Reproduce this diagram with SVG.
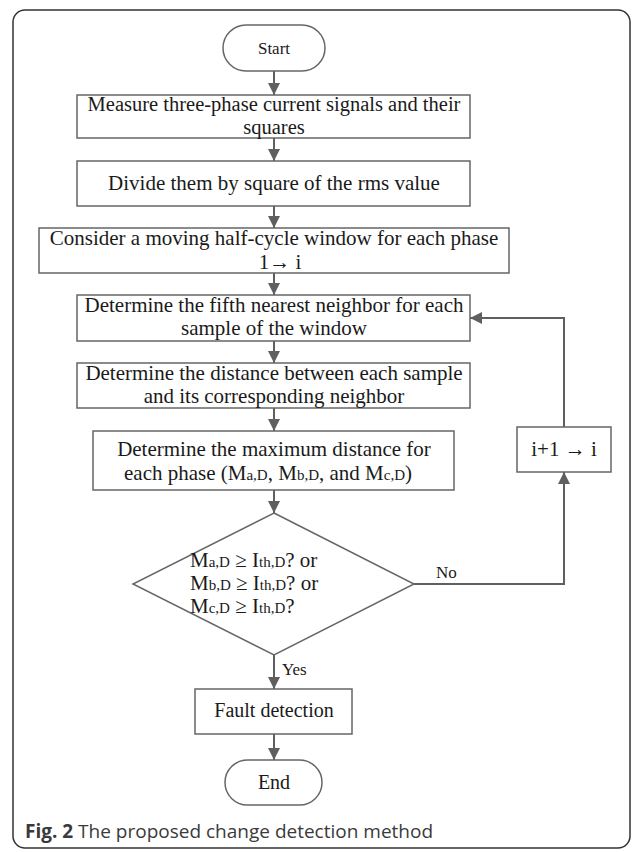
<svg xmlns="http://www.w3.org/2000/svg" width="634" height="852" viewBox="0 0 634 852">
<style>
.box{fill:#fff;stroke:#666;stroke-width:1.5}
.t{font-family:"Liberation Serif","Times New Roman",serif;font-size:21px;fill:#1a1a1a;text-anchor:middle}
.ts{font-family:"Liberation Serif","Times New Roman",serif;font-size:21px;fill:#1a1a1a}
.lbl{font-family:"Liberation Serif","Times New Roman",serif;font-size:17px;fill:#1a1a1a}
.sub{font-size:15px}
.con{fill:none;stroke:#5f5f5f;stroke-width:2}
.cap{font-family:"Open Sans","Noto Sans",sans-serif;font-size:19px;fill:#3a3a3a}
</style>
<defs>
<marker id="ah" viewBox="0 0 12 12" refX="12" refY="6" markerWidth="12" markerHeight="12" markerUnits="userSpaceOnUse" orient="auto">
<path d="M0,0 L12,6 L0,12 Z" fill="#5f5f5f"/>
</marker>
</defs>
<rect x="13" y="10" width="617" height="838" rx="12" fill="#fff" stroke="#333" stroke-width="1.5"/>
<g id="connectors">
<line class="con" x1="274" y1="71" x2="274" y2="95" marker-end="url(#ah)"/>
<line class="con" x1="274" y1="138" x2="274" y2="161" marker-end="url(#ah)"/>
<line class="con" x1="274" y1="206" x2="274" y2="228" marker-end="url(#ah)"/>
<line class="con" x1="274" y1="273" x2="274" y2="295" marker-end="url(#ah)"/>
<line class="con" x1="274" y1="341" x2="274" y2="363" marker-end="url(#ah)"/>
<line class="con" x1="274" y1="408" x2="274" y2="431" marker-end="url(#ah)"/>
<line class="con" x1="274" y1="490" x2="274" y2="513" marker-end="url(#ah)"/>
<line class="con" x1="274" y1="655" x2="274" y2="689" marker-end="url(#ah)"/>
<line class="con" x1="274" y1="734" x2="274" y2="760" marker-end="url(#ah)"/>
<polyline class="con" points="414,584 564,584 564,472" marker-end="url(#ah)"/>
<polyline class="con" points="564,427 564,318 470,318" marker-end="url(#ah)"/>
<text class="lbl" x="282" y="675">Yes</text>
<text class="lbl" x="436" y="578">No</text>
</g>
<g id="start">
<rect class="box" x="223" y="25" width="102" height="46" rx="23"/>
<text class="t" x="274" y="54" style="font-size:17px">Start</text>
</g>
<g id="measure">
<rect class="box" x="77" y="95" width="393" height="43"/>
<text class="t" x="274" y="111" style="font-size:20.5px">Measure three-phase current signals and their</text>
<text class="t" x="274" y="134" style="font-size:20.5px">squares</text>
</g>
<g id="divide">
<rect class="box" x="77" y="161" width="393" height="45"/>
<text class="t" x="274" y="190">Divide them by square of the rms value</text>
</g>
<g id="consider">
<rect class="box" x="39" y="228" width="470" height="45"/>
<text class="t" x="274" y="245">Consider a moving half-cycle window for each phase</text>
<text class="t" x="280" y="269">1→ i</text>
</g>
<g id="fifth">
<rect class="box" x="77" y="295" width="393" height="46"/>
<text class="t" x="274" y="312">Determine the fifth nearest neighbor for each</text>
<text class="t" x="274" y="335">sample of the window</text>
</g>
<g id="distance">
<rect class="box" x="77" y="363" width="393" height="45"/>
<text class="t" x="274" y="380">Determine the distance between each sample</text>
<text class="t" x="274" y="403">and its corresponding neighbor</text>
</g>
<g id="maximum">
<rect class="box" x="93" y="431" width="361" height="59"/>
<text class="t" x="274" y="456">Determine the maximum distance for</text>
<text class="t" x="268" y="480">each phase (M<tspan class="sub">a,D</tspan>, M<tspan class="sub">b,D</tspan>, and M<tspan class="sub">c,D</tspan>)</text>
</g>
<g id="decision">
<polygon class="box" points="274,513 414,584 274,655 133,584"/>
<text class="ts" x="190" y="567">M<tspan class="sub">a,D</tspan> ≥ I<tspan class="sub">th,D</tspan>? or</text>
<text class="ts" x="190" y="590">M<tspan class="sub">b,D</tspan> ≥ I<tspan class="sub">th,D</tspan>? or</text>
<text class="ts" x="190" y="613">M<tspan class="sub">c,D</tspan> ≥ I<tspan class="sub">th,D</tspan>?</text>
</g>
<g id="increment">
<rect class="box" x="517" y="427" width="94" height="45"/>
<text class="t" x="564" y="456">i+1 → i</text>
</g>
<g id="fault">
<rect class="box" x="195" y="689" width="157" height="45"/>
<text class="t" x="274" y="717" style="font-size:20px">Fault detection</text>
</g>
<g id="end">
<rect class="box" x="225" y="760" width="97" height="45" rx="22.5"/>
<text class="t" x="274" y="789" style="font-size:20px">End</text>
</g>
<text class="cap" x="25" y="838"><tspan font-weight="bold">Fig. 2</tspan> The proposed change detection method</text>
</svg>
